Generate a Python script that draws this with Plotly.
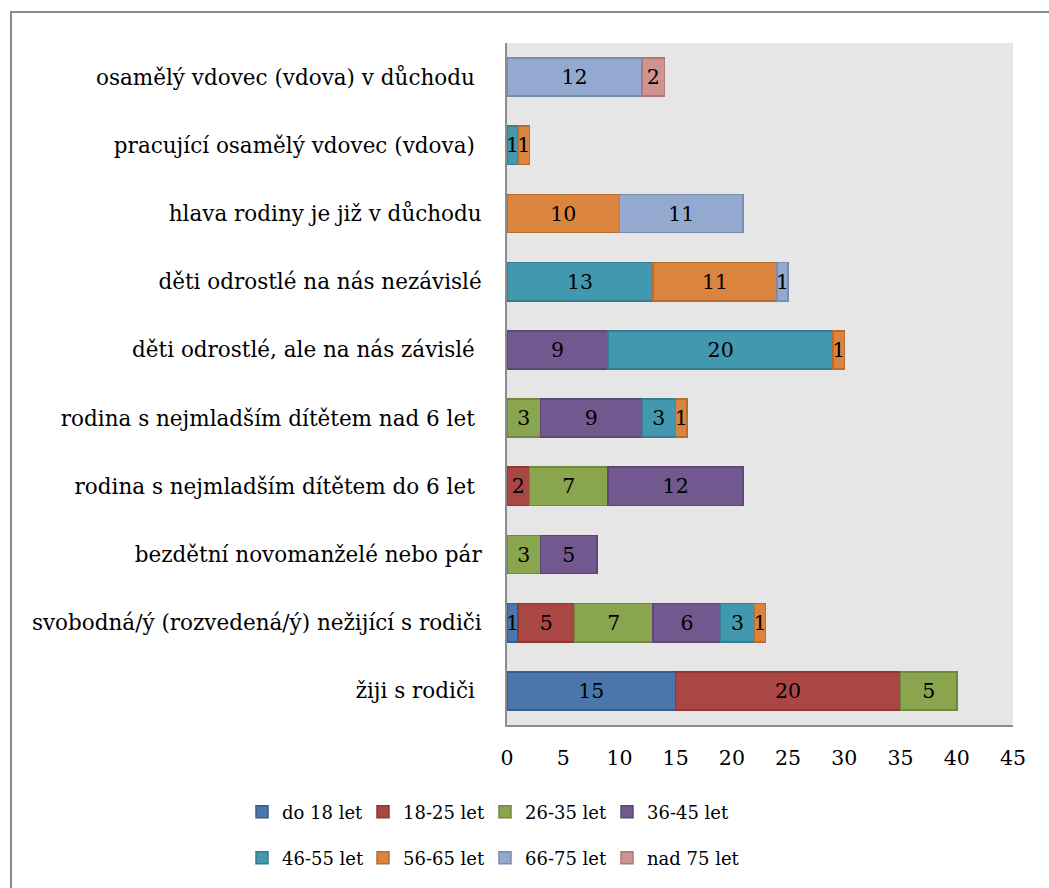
import plotly.graph_objects as go

# Life-cycle stage of the household, listed from the bottom bar upward
categories = [
    "žiji s rodiči",
    "svobodná/ý (rozvedená/ý) nežijící s rodiči",
    "bezdětní novomanželé nebo pár",
    "rodina s nejmladším dítětem do 6 let",
    "rodina s nejmladším dítětem nad 6 let",
    "děti odrostlé, ale na nás závislé",
    "děti odrostlé na nás nezávislé",
    "hlava rodiny je již v důchodu",
    "pracující osamělý vdovec (vdova)",
    "osamělý vdovec (vdova) v důchodu",
]
# Some of the source labels carry a trailing space
trailing_space = [True, False, False, True, True, True, False, False, True, True]

# Respondent counts per age group (None = no respondents in that stage)
do_18 = [15, 1, None, None, None, None, None, None, None, None]
let_18_25 = [20, 5, None, 2, None, None, None, None, None, None]
let_26_35 = [5, 7, 3, 7, 3, None, None, None, None, None]
let_36_45 = [None, 6, 5, 12, 9, 9, None, None, None, None]
let_46_55 = [None, 3, None, None, 3, 20, 13, None, 1, None]
let_56_65 = [None, 1, None, None, 1, 1, 11, 10, 1, None]
let_66_75 = [None, None, None, None, None, None, 1, 11, None, 12]
nad_75 = [None, None, None, None, None, None, None, None, None, 2]

series_names = ["do 18 let", "18-25 let", "26-35 let", "36-45 let",
                "46-55 let", "56-65 let", "66-75 let", "nad 75 let"]
series_values = [do_18, let_18_25, let_26_35, let_36_45,
                 let_46_55, let_56_65, let_66_75, nad_75]
fill_colors = ["#4a76ab", "#aa4643", "#89a54e", "#71588f",
               "#4198af", "#db843d", "#93a9cf", "#d19392"]
edge_colors = ["#385d8a", "#8c3836", "#71893f", "#5c4776",
               "#357d91", "#b66d31", "#7a8cab", "#ad7979"]

FONT = "DejaVu Serif"

W, H = 1049, 888
ml, mr, mt, mb = 507, 36, 43, 163
pw, ph = W - ml - mr, H - mt - mb


def px_x(x):
    return (x - ml) / pw


def px_y(y):
    return (H - mb - y) / ph


# Legend laid out as two rows of four entries below the axis
legend_cols = [242, 363, 485, 607]
legend_rows = [812, 858]

fig = go.Figure()
layout_legends = {}
for i, (name, vals, fill, edge) in enumerate(
        zip(series_names, series_values, fill_colors, edge_colors)):
    leg_id = "legend" if i == 0 else f"legend{i + 1}"
    fig.add_trace(go.Bar(
        y=categories,
        x=vals,
        name=name,
        orientation="h",
        showlegend=True,
        marker=dict(color=fill, line=dict(color=edge, width=1.5)),
        text=[("" if v is None else str(v)) for v in vals],
        textposition="inside",
        insidetextanchor="middle",
        constraintext="none",
        textfont=dict(family=FONT, size=20.5, color="#000000"),
        legend=leg_id,
        hoverinfo="x+name",
    ))
    layout_legends[leg_id] = dict(
        x=px_x(legend_cols[i % 4]),
        y=px_y(legend_rows[i // 4]),
        xanchor="left",
        yanchor="middle",
        orientation="h",
        itemwidth=30,
        bgcolor="rgba(0,0,0,0)",
        font=dict(family=FONT, size=18, color="#000000"),
        visible=True,
    )

tick_text = [c + ("\u00a0" if sp else "") for c, sp in zip(categories, trailing_space)]

fig.update_layout(
    width=W,
    height=H,
    showlegend=True,
    margin=dict(l=ml, r=mr, t=mt, b=mb, autoexpand=False),
    barmode="stack",
    bargap=0.44,
    plot_bgcolor="#e6e6e6",
    paper_bgcolor="#ffffff",
    font=dict(family=FONT, size=20, color="#000000"),
    xaxis=dict(
        range=[0, 45],
        tickvals=[0, 5, 10, 15, 20, 25, 30, 35, 40, 45],
        showgrid=False,
        zeroline=False,
        showline=True,
        linecolor="#8c8c8c",
        linewidth=2,
        ticks="",
        ticklabelstandoff=13,
        tickfont=dict(family=FONT, size=20.5, color="#000000"),
        fixedrange=True,
    ),
    yaxis=dict(
        type="category",
        tickmode="array",
        tickvals=categories,
        ticktext=tick_text,
        showgrid=False,
        zeroline=False,
        showline=True,
        linecolor="#8c8c8c",
        linewidth=2,
        ticks="",
        ticklabelstandoff=19,
        tickfont=dict(family=FONT, size=21.5, color="#000000"),
        fixedrange=True,
    ),
    shapes=[
        dict(
            type="rect",
            xref="paper", yref="paper",
            x0=px_x(11), x1=px_x(1070),
            y0=px_y(12), y1=px_y(900),
            line=dict(color="#8a8a8a", width=2),
            fillcolor="rgba(0,0,0,0)",
            layer="below",
        )
    ],
    **layout_legends,
)

fig.write_html("out.html")
